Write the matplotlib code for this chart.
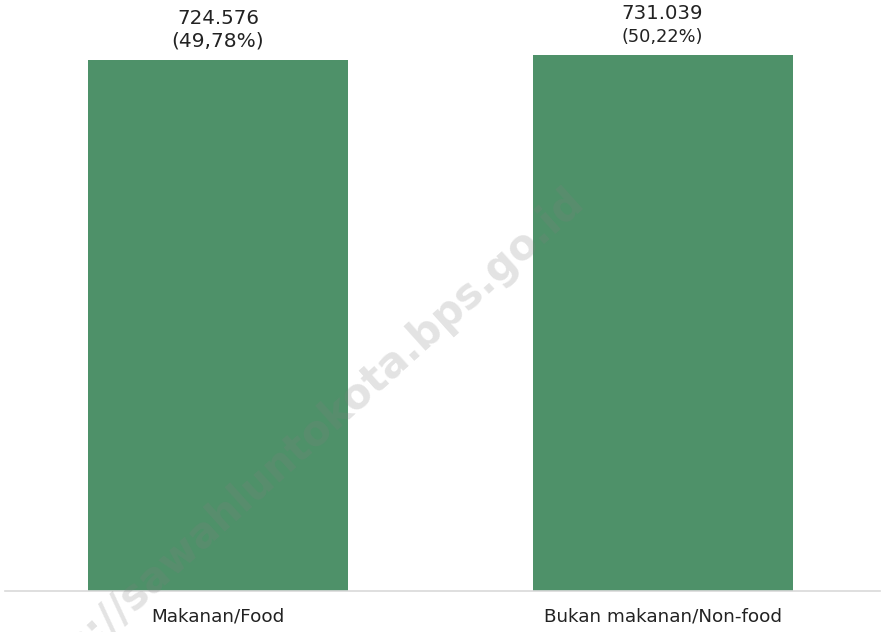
import matplotlib
matplotlib.use("Agg")
import matplotlib.pyplot as plt

categories = ["Makanan/Food", "Bukan makanan/Non-food"]
values = [724576, 731039]
value_labels = ["724.576", "731.039"]
pct_labels = ["(49,78%)", "(50,22%)"]
pct_sizes = [14.5, 12.8]

W, H = 887, 632
fig = plt.figure(figsize=(W / 100, H / 100), dpi=100)
ax = fig.add_axes([5 / W, (H - 591) / H, 875 / W, 591 / H])

bar_color = "#4E9169"
x = list(range(len(categories)))
bars = ax.bar(x, values, width=0.585, color=bar_color, zorder=2)

ax.set_xlim(-0.479, 1.489)
ax.set_ylim(0, 591 / 531 * values[0])

for s in ["top", "right", "left"]:
    ax.spines[s].set_visible(False)
ax.spines["bottom"].set_color("#d9d9d9")
ax.spines["bottom"].set_linewidth(1.2)
ax.set_yticks([])
ax.set_xticks(x)
ax.set_xticklabels(categories, fontsize=13.2, color="#222222")
ax.tick_params(axis="x", length=0, pad=12)

for xi, v, vl, pl, ps in zip(x, values, value_labels, pct_labels, pct_sizes):
    ax.annotate(vl, (xi, v), xytext=(0, 30), textcoords="offset points",
                ha="center", va="center", fontsize=14.2, color="#222222")
    ax.annotate(pl, (xi, v), xytext=(0, 13.5), textcoords="offset points",
                ha="center", va="center", fontsize=ps, color="#222222")

fig.text(578 / W, (H - 195) / H, "https://sawahluntokota.bps.go.id",
         rotation=42, rotation_mode="anchor", ha="right", va="center",
         fontsize=30, fontweight="bold", color="#808080", alpha=0.22, zorder=10)

fig.savefig("out.png", dpi=100)
